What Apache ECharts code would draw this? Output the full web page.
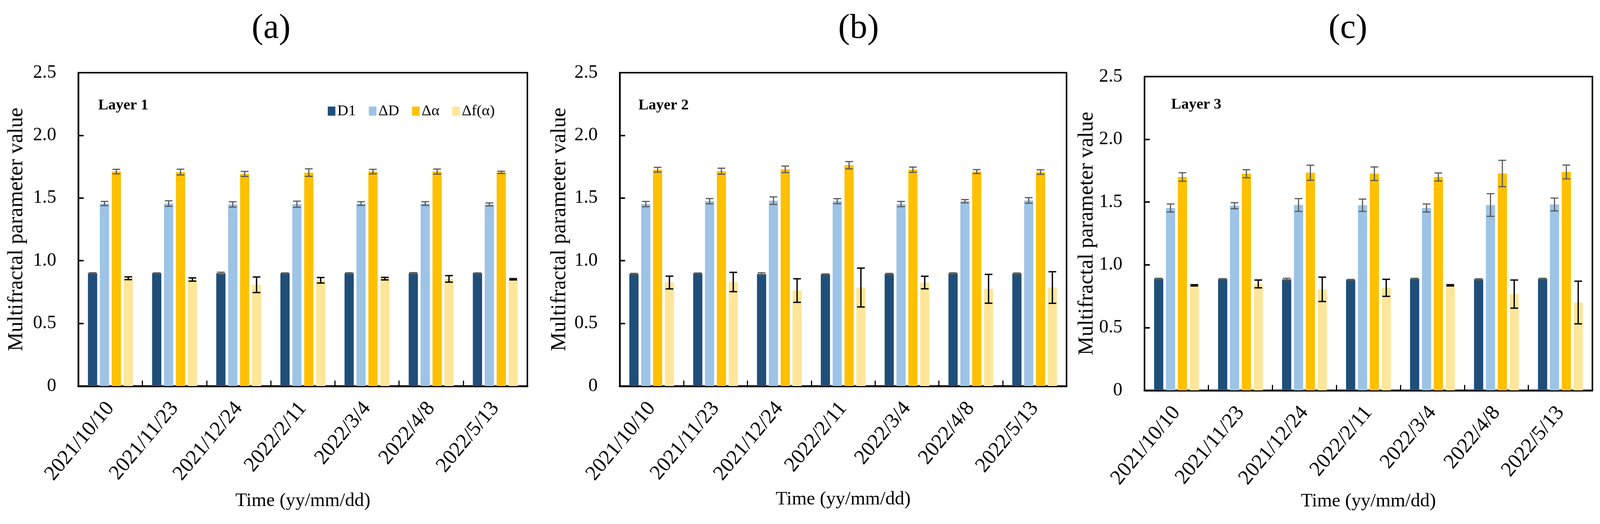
<!DOCTYPE html>
<html>
<head>
<meta charset="utf-8">
<script src="https://cdn.jsdelivr.net/npm/echarts@6/dist/echarts.min.js"></script>
<style>
html,body{margin:0;padding:0;background:#fff;overflow:hidden;}
#chart{width:100vw;height:100vh;}
</style>
</head>
<body>
<div id="chart"></div>
<script>
// ---------- data ----------
const categories = ['2021/10/10','2021/11/23','2021/12/24','2022/2/11','2022/3/4','2022/4/8','2022/5/13'];
const seriesNames = ['D1','ΔD','Δα','Δf(α)'];
const yTicks = [0, 0.5, 1.0, 1.5, 2.0, 2.5];

// Layer 1
const L1_D1   = [0.900,0.900,0.900,0.900,0.900,0.900,0.900];
const L1_D1e  = [0.004,0.003,0.008,0.003,0.004,0.005,0.003];
const L1_dD   = [1.456,1.456,1.449,1.451,1.456,1.456,1.449];
const L1_dDe  = [0.017,0.022,0.021,0.024,0.015,0.015,0.012];
const L1_da   = [1.711,1.707,1.692,1.703,1.711,1.711,1.705];
const L1_dae  = [0.018,0.023,0.020,0.030,0.018,0.020,0.009];
const L1_df   = [0.860,0.850,0.808,0.844,0.857,0.855,0.852];
const L1_dfe  = [0.011,0.013,0.062,0.022,0.010,0.026,0.005];
// Layer 2
const L2_D1   = [0.895,0.899,0.895,0.892,0.895,0.899,0.898];
const L2_D1e  = [0.004,0.003,0.009,0.003,0.004,0.004,0.004];
const L2_dD   = [1.452,1.475,1.479,1.475,1.452,1.475,1.481];
const L2_dDe  = [0.021,0.021,0.030,0.020,0.021,0.013,0.022];
const L2_da   = [1.726,1.714,1.729,1.762,1.726,1.711,1.707];
const L2_dae  = [0.019,0.024,0.026,0.029,0.021,0.016,0.018];
const L2_df   = [0.826,0.830,0.762,0.786,0.826,0.776,0.786];
const L2_dfe  = [0.051,0.077,0.094,0.155,0.050,0.115,0.126];
// Layer 3
const L3_D1   = [0.889,0.887,0.884,0.881,0.889,0.884,0.889];
const L3_D1e  = [0.004,0.003,0.009,0.003,0.004,0.005,0.004];
const L3_dD   = [1.453,1.471,1.477,1.475,1.453,1.477,1.481];
const L3_dDe  = [0.032,0.024,0.051,0.049,0.032,0.090,0.051];
const L3_da   = [1.700,1.726,1.734,1.726,1.700,1.728,1.740];
const L3_dae  = [0.034,0.032,0.060,0.054,0.032,0.105,0.055];
const L3_df   = [0.837,0.848,0.805,0.817,0.837,0.767,0.700];
const L3_dfe  = [0.005,0.031,0.097,0.068,0.005,0.112,0.170];

const layers = [
  {label:'Layer 1', panel:'(a)', vals:[L1_D1,L1_dD,L1_da,L1_df], errs:[L1_D1e,L1_dDe,L1_dae,L1_dfe]},
  {label:'Layer 2', panel:'(b)', vals:[L2_D1,L2_dD,L2_da,L2_df], errs:[L2_D1e,L2_dDe,L2_dae,L2_dfe]},
  {label:'Layer 3', panel:'(c)', vals:[L3_D1,L3_dD,L3_da,L3_df], errs:[L3_D1e,L3_dDe,L3_dae,L3_dfe]}
];

// ---------- style / layout (designed for 4208 x 1341, scaled to the real viewport) ----------
const el = document.getElementById('chart');
const W = el.clientWidth || window.innerWidth, H = el.clientHeight || window.innerHeight;
const sx = W / 4208, sy = H / 1341, s = Math.min(sx, sy);

const colors = ['#1F4E79','#9DC3E6','#FFC000','#FFE699'];
const errColors = ['#595959','#595959','#595959','#000000'];
const FONT = '"Liberation Serif", "Times New Roman", serif';
const CAT_GAP = 0.30, BAR_GAP = 0.29;

const grids = [
  {left:206,  top:186, width:1181, height:802},
  {left:1630, top:186, width:1175, height:802},
  {left:3010, top:196, width:1178, height:803}
];
const yNameGap = [134, 130, 123];
const xNameGap = [270, 266, 258];
const titlePos = [[713, 73], [2258, 73], [3545, 73]];
const layerPos = [[258, 270], [1679, 270], [3080, 268]];

function errRender(k) {
  return function (params, api) {
    const i = api.value(0), v = api.value(1), e = api.value(2);
    const band = api.size([1, 0])[0];
    const n = seriesNames.length;
    const bw = band * (1 - CAT_GAP) / (n + (n - 1) * BAR_GAP);
    const total = n * bw + (n - 1) * BAR_GAP * bw;
    const c = api.coord([i, v]);
    const x = c[0] - total / 2 + k * bw * (1 + BAR_GAP) + bw / 2;
    const yT = api.coord([i, v + e])[1];
    const yB = api.coord([i, v - e])[1];
    const hw = bw * 0.42;
    const st = {stroke: errColors[k], lineWidth: (k === 3 ? 3.5 : 3) * s};
    return {type: 'group', children: [
      {type:'line', shape:{x1:x, y1:yT, x2:x, y2:yB}, style:st},
      {type:'line', shape:{x1:x-hw, y1:yT, x2:x+hw, y2:yT}, style:st},
      {type:'line', shape:{x1:x-hw, y1:yB, x2:x+hw, y2:yB}, style:st}
    ]};
  };
}

const xAxis = [], yAxis = [], series = [], graphic = [];
layers.forEach((L, p) => {
  xAxis.push({
    type:'category', gridIndex:p, data:categories,
    name:'Time (yy/mm/dd)', nameLocation:'middle', nameGap:xNameGap[p]*sy,
    nameTextStyle:{fontFamily:FONT, fontSize:50*s, color:'#000'},
    axisLine:{show:true, lineStyle:{color:'#000', width:5*s}},
    axisTick:{show:true, inside:true, length:14*sy, lineStyle:{color:'#000', width:3*s}},
    axisLabel:{interval:0, rotate:50, margin:48*sy, fontFamily:FONT, fontSize:55*s, color:'#000'},
    splitLine:{show:false}
  });
  yAxis.push({
    type:'value', gridIndex:p, min:yTicks[0], max:yTicks[yTicks.length-1], interval:0.5,
    name:'Multifractal parameter value', nameLocation:'middle', nameRotate:90, nameGap:yNameGap[p]*sx,
    nameTextStyle:{fontFamily:FONT, fontSize:56*s, color:'#000'},
    axisLine:{show:true, lineStyle:{color:'#000', width:4*s}},
    axisTick:{show:true, inside:true, length:14*sx, lineStyle:{color:'#000', width:4*s}},
    axisLabel:{margin:58*sx, fontFamily:FONT, fontSize:49*s, color:'#000',
      formatter: v => v === 0 ? '0' : v.toFixed(1)},
    splitLine:{show:false}
  });
  seriesNames.forEach((nm, k) => {
    series.push({
      type:'bar', name:nm, xAxisIndex:p, yAxisIndex:p,
      data:L.vals[k], barCategoryGap:(CAT_GAP*100)+'%', barGap:(BAR_GAP*100)+'%',
      itemStyle:{color:colors[k]}, emphasis:{disabled:true}, z:2
    });
  });
  seriesNames.forEach((nm, k) => {
    series.push({
      type:'custom', name:nm + ' error ' + (p+1), xAxisIndex:p, yAxisIndex:p,
      renderItem: errRender(k),
      data: L.vals[k].map((v, i) => [i, v, L.errs[k][i]]),
      z:5, silent:true
    });
  });
  graphic.push({type:'text', x:titlePos[p][0]*sx, y:titlePos[p][1]*sy,
    style:{text:L.panel, fontFamily:FONT, fontSize:92*s, fill:'#000', textAlign:'center', textVerticalAlign:'middle'}});
  graphic.push({type:'text', x:layerPos[p][0]*sx, y:layerPos[p][1]*sy,
    style:{text:L.label, fontFamily:FONT, fontSize:40*s, fontWeight:'bold', fill:'#000', textAlign:'left', textVerticalAlign:'middle'}});
});

const option = {
  backgroundColor:'#fff',
  animation:false,
  grid: grids.map(g => ({show:true, borderColor:'#000', borderWidth:4*s, containLabel:false,
    left:g.left*sx, top:g.top*sy, width:g.width*sx, height:g.height*sy})),
  xAxis, yAxis, series, graphic,
  legend:{
    data:seriesNames, left:857*sx, top:260*sy, orient:'horizontal', padding:5*s,
    icon:'rect', itemWidth:20*s, itemHeight:24*s, itemGap:34*s,
    textStyle:{fontFamily:FONT, fontSize:40*s, color:'#000'},
    selectedMode:false
  }
};

const chart = echarts.init(el, null, {renderer:'canvas'});
chart.setOption(option);
</script>
</body>
</html>
